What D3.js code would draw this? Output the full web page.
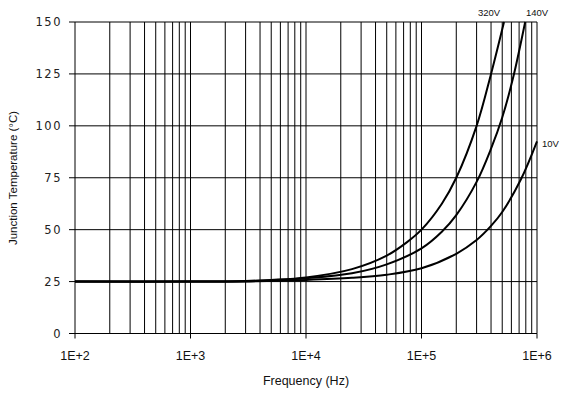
<!DOCTYPE html>
<html><head><meta charset="utf-8">
<script src="https://cdn.jsdelivr.net/npm/d3@7"></script>
<style>body{margin:0;background:#fff}svg{display:block}</style>
</head><body>
<svg id="c" width="565" height="394"></svg>
<script>
const yTicks = [0, 25, 50, 75, 100, 125, 150];
const xTickLabels = ["1E+2", "1E+3", "1E+4", "1E+5", "1E+6"];
const xTickValues = [1e2, 1e3, 1e4, 1e5, 1e6];
const freq320 = [100, 1000, 2000, 3000, 5000, 10000, 25000, 50000, 75000, 100000, 150000, 200000, 300000, 400000, 518000];
const temp320 = [25, 25, 25.1, 25.3, 25.8, 27, 31, 37.5, 44, 50, 62.5, 75, 100, 125, 150];
const freq140 = [100, 1000, 3000, 5000, 10000, 25000, 50000, 100000, 150000, 200000, 300000, 400000, 500000, 620000, 790000];
const temp140 = [25, 25, 25.2, 25.6, 26.6, 29, 33.3, 41, 49, 57, 73, 89, 104, 123, 150];
const freq10 = [100, 1000, 3000, 10000, 25000, 50000, 100000, 200000, 300000, 400000, 500000, 730000, 1000000];
const temp10 = [25, 25, 25.1, 25.8, 26.8, 28.3, 31.4, 38.4, 45, 51.8, 58.5, 74.5, 92.5];
const seriesNames = ["320V", "140V", "10V"];

const svg = d3.select("#c");
const L = 75, R = 537, T = 22, B = 333.5;
const x = d3.scaleLog().domain([1e2, 1e6]).range([L, R]);
const y = d3.scaleLinear().domain([0, 150]).range([B, T]);

// vertical grid lines at each 1..9 multiple
const minor = [];
for (let e = 2; e < 6; e++) for (let m = 1; m < 10; m++) minor.push(m * Math.pow(10, e));
minor.push(1e6);
svg.append("g").selectAll("line").data(minor).join("line")
  .attr("x1", d => x(d)).attr("x2", d => x(d))
  .attr("y1", T).attr("y2", B)
  .attr("stroke", "#000").attr("stroke-width", 1);

// horizontal grid lines with outer ticks
svg.append("g").selectAll("line").data(yTicks).join("line")
  .attr("x1", L - 6).attr("x2", R)
  .attr("y1", d => y(d)).attr("y2", d => y(d))
  .attr("stroke", "#000").attr("stroke-width", 1);

// decade ticks below axis
svg.append("g").selectAll("line").data(xTickValues).join("line")
  .attr("x1", d => x(d)).attr("x2", d => x(d))
  .attr("y1", B).attr("y2", B + 5)
  .attr("stroke", "#000").attr("stroke-width", 1);

// y tick labels
svg.append("g").selectAll("text").data(yTicks).join("text")
  .attr("x", 62).attr("y", d => y(d) + 4)
  .attr("text-anchor", "end")
  .attr("font-family", "DejaVu Sans").attr("font-size", 11.5)
  .attr("letter-spacing", 1.5).attr("fill", "#222")
  .text(d => d);

// x tick labels
svg.append("g").selectAll("text").data(xTickValues).join("text")
  .attr("x", d => x(d)).attr("y", 360)
  .attr("text-anchor", "middle")
  .attr("font-family", "Liberation Sans").attr("font-size", 12.5)
  .attr("fill", "#111")
  .text((d, i) => xTickLabels[i]);

svg.append("text").attr("x", 306).attr("y", 385)
  .attr("text-anchor", "middle")
  .attr("font-family", "Liberation Sans").attr("font-size", 12.5)
  .attr("fill", "#111").text("Frequency (Hz)");

svg.append("text")
  .attr("transform", "translate(17,178) rotate(-90)")
  .attr("text-anchor", "middle")
  .attr("font-family", "Liberation Sans Narrow, Liberation Sans").attr("font-size", 11.5)
  .attr("fill", "#111").text("Junction Temperature (°C)");

// curves
const line = d3.line().x(d => x(d[0])).y(d => y(d[1])).curve(d3.curveCatmullRom.alpha(0.5));
const series = [
  d3.zip(freq320, temp320),
  d3.zip(freq140, temp140),
  d3.zip(freq10, temp10)
];
svg.append("g").selectAll("path").data(series).join("path")
  .attr("d", line).attr("fill", "none")
  .attr("stroke", "#000").attr("stroke-width", 2);

// curve labels
const labelPos = [[478, 16], [526, 16], [542, 147]];
svg.append("g").selectAll("text").data(seriesNames).join("text")
  .attr("x", (d, i) => labelPos[i][0]).attr("y", (d, i) => labelPos[i][1])
  .attr("font-family", "Liberation Sans").attr("font-size", 9.5)
  .attr("fill", "#111").text(d => d);
</script>
</body></html>
